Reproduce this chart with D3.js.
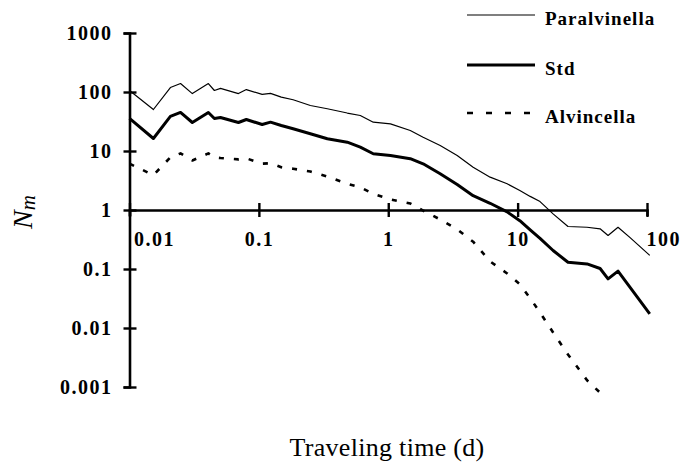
<!DOCTYPE html>
<html>
<head>
<meta charset="utf-8">
<script src="https://cdnjs.cloudflare.com/ajax/libs/d3/7.8.5/d3.min.js"></script>
<style>
    body { margin: 0; background: #fff; }
    svg { display: block; }
</style>
</head>
<body>
<script>
// traveling time (d)
var times = [0.01, 0.0153, 0.0207, 0.0248, 0.0306, 0.0407, 0.0453, 0.0505, 0.0695, 0.080,
    0.106, 0.123, 0.149, 0.184, 0.25, 0.338, 0.482, 0.608, 0.766, 1.04,
    1.48, 1.86, 2.52, 3.41, 4.53, 6.13, 8.3, 10.4, 12.5, 14.9,
    18.8, 24.5, 34.4, 43.4, 50, 59.7, 74, 105];

var paralvinella = [106, 50.5, 119, 139, 94, 139, 106, 115, 94, 110,
    91, 95, 82, 74, 59, 52, 44, 40, 30.8, 28.9,
    22.3, 17.1, 12.4, 8.4, 5.3, 3.6, 2.78, 2.14, 1.7, 1.39,
    0.86, 0.525, 0.51, 0.48, 0.37, 0.51, 0.34, 0.17];

var std = [35.6, 16.3, 38.5, 45, 30.4, 45, 35.6, 37, 30.4, 34.2,
    28.1, 30.8, 27, 23.8, 19.6, 16.1, 14.1, 11.6, 8.97, 8.4,
    7.4, 6.07, 4.11, 2.7, 1.75, 1.3, 0.93, 0.66, 0.46, 0.33,
    0.206, 0.13, 0.122, 0.102, 0.068, 0.092, 0.049, 0.0174];

var alvincella = [6.1, 3.9, 7.8, 9.1, 6.9, 9.1, 7.8, 7.6, 7.2, 7.5,
    6.1, 6.2, 5.3, 5.0, 4.5, 3.7, 2.78, 2.43, 1.88, 1.51,
    1.29, 0.98, 0.69, 0.47, 0.29, 0.134, 0.084, 0.055, 0.032, 0.0183,
    0.0084, 0.00356, 0.0013, 0.0008, null, null, null, null];

var xTicks = [0.01, 0.1, 1, 10, 100];
var xTickLabels = ['0.01', '0.1', '1', '10', '100'];
var yTicks = [0.001, 0.01, 0.1, 1, 10, 100, 1000];
var yTickLabels = ['0.001', '0.01', '0.1', '1', '10', '100', '1000'];
var seriesNames = ['Paralvinella', 'Std', 'Alvincella'];

var width = 680;
var height = 464;
var serif = "'Liberation Serif', 'Times New Roman', serif";

var svg = d3.select('body')
    .append('svg')
    .attr('width', width)
    .attr('height', height);

//log scales
var xScale = d3.scaleLog()
    .domain([0.01, 100])
    .range([129.5, 647]);

var yScale = d3.scaleLog()
    .domain([0.001, 1000])
    .range([387, 33]);

//series styles
var series = [
    {name: seriesNames[0], values: paralvinella, width: 1.2, dash: null},
    {name: seriesNames[1], values: std, width: 3, dash: null},
    {name: seriesNames[2], values: alvincella, width: 2.6, dash: '5,10'}
];

var boldText = function(sel, size, spacing){
    sel.attr('font-family', null)
        .attr('font-size', null)
        .style('font-family', serif)
        .style('font-weight', 'bold')
        .style('font-size', size + 'px')
        .style('letter-spacing', spacing + 'px')
        .attr('fill', '#000');
}

//Y axis
var yAxis = d3.axisLeft(yScale)
    .tickValues(yTicks)
    .tickFormat(function(d, i){ return yTickLabels[i]; })
    .tickSizeOuter(0)
    .tickSize(6);

var gy = svg.append('g')
    .attr('transform', 'translate(' + xScale(0.01) + ',0)')
    .call(yAxis);
gy.select('.domain').attr('stroke', '#000').attr('stroke-width', 2.6);
gy.selectAll('.tick line').attr('x1', 7).attr('x2', -6).attr('stroke', '#000').attr('stroke-width', 2.4);
gy.selectAll('.tick text')
    .attr('x', -17)
    .call(boldText, 20, 1.5);

//X axis crosses at Nm = 1
var xAxis = d3.axisBottom(xScale)
    .tickValues(xTicks)
    .tickFormat(function(d, i){ return xTickLabels[i]; })
    .tickSizeOuter(0)
    .tickSize(6);

var gx = svg.append('g')
    .attr('transform', 'translate(0,' + yScale(1) + ')')
    .call(xAxis);
gx.select('.domain').attr('stroke', '#000').attr('stroke-width', 2.6);
gx.selectAll('.tick line').attr('y1', -7).attr('y2', 7).attr('stroke', '#000').attr('stroke-width', 2.4);
gx.selectAll('.tick text')
    .attr('y', 22)
    .call(boldText, 20, 1.5)
    .attr('text-anchor', function(d, i){
        return (i == 0 || i == xTicks.length - 1) ? 'start' : 'middle';
    })
    .attr('dx', function(d, i){
        if(i == 0) return 4;
        if(i == xTicks.length - 1) return -1;
        return 0;
    });

//lines
var line = d3.line()
    .defined(function(d){ return d[1] != null; })
    .x(function(d){ return xScale(d[0]); })
    .y(function(d){ return yScale(d[1]); });

series.forEach(function(s){
    var pts = times.map(function(t, i){ return [t, s.values[i]]; });
    svg.append('path')
        .datum(pts)
        .attr('fill', 'none')
        .attr('stroke', '#000')
        .attr('stroke-width', s.width)
        .attr('stroke-dasharray', s.dash)
        .attr('stroke-linejoin', 'round')
        .attr('d', line);
});

//legend
var legendY = [15, 65, 113];
var legend = svg.append('g');
series.forEach(function(s, i){
    legend.append('line')
        .attr('x1', 467)
        .attr('x2', 535)
        .attr('y1', legendY[i])
        .attr('y2', legendY[i])
        .attr('stroke', '#000')
        .attr('stroke-width', s.width)
        .attr('stroke-dasharray', s.dash ? '6,13' : null);
    legend.append('text')
        .attr('x', 545)
        .attr('y', legendY[i] + 10)
        .call(boldText, 19, 1)
        .text(s.name);
});

//axis titles
svg.append('text')
    .attr('x', 387)
    .attr('y', 456)
    .attr('text-anchor', 'middle')
    .style('font-family', serif)
    .style('font-size', '26px')
    .style('letter-spacing', '0.3px')
    .text('Traveling time (d)');

var yTitle = svg.append('text')
    .attr('transform', 'translate(32,212) rotate(-90)')
    .attr('text-anchor', 'middle')
    .style('font-family', serif)
    .style('font-style', 'italic')
    .style('font-size', '28px');
yTitle.append('tspan').text('N');
yTitle.append('tspan').attr('dy', 3).style('font-size', '21px').text('m');
</script>
</body>
</html>
